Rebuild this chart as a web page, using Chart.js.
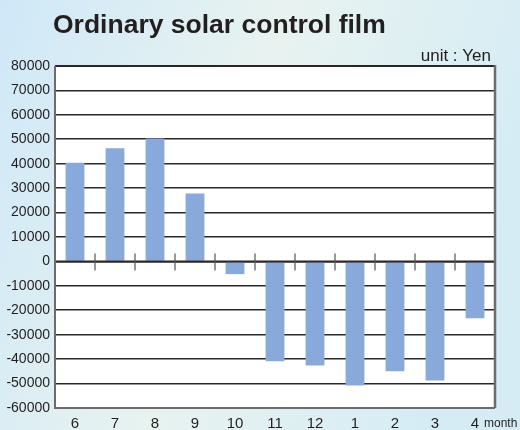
<!DOCTYPE html>
<html>
<head>
<meta charset="utf-8">
<script src="https://cdn.jsdelivr.net/npm/chart.js@4/dist/chart.umd.min.js"></script>
<style>
html,body{margin:0;padding:0;}
#wrap{width:520px;height:430px;position:relative;}
</style>
</head>
<body>
<div id="wrap"><canvas id="c" width="520" height="430"></canvas></div>
<script>
const months = ['6','7','8','9','10','11','12','1','2','3','4'];
const values = [40400, 46300, 50300, 27800, -5200, -40900, -42600, -50800, -45000, -48700, -23300];
const titleText = 'Ordinary solar control film';
const unitText = 'unit : Yen';
const axisUnit = 'month';
const yMin = -60000, yMax = 80000, yStep = 10000;

const FONT = '"Liberation Sans", Arial, Helvetica, sans-serif';

const decor = {
  id: 'decor',
  beforeDraw(chart) {
    const ctx = chart.ctx, W = chart.width, H = chart.height, a = chart.chartArea;
    ctx.save();
    const g = ctx.createLinearGradient(0, 0, W, H * 0.4);
    g.addColorStop(0, '#cfe8f8');
    g.addColorStop(0.5, '#e8f3f0');
    g.addColorStop(1, '#d5ecf5');
    ctx.fillStyle = g;
    ctx.fillRect(0, 0, W, H);
    ctx.fillStyle = '#ffffff';
    ctx.fillRect(a.left, a.top, a.right - a.left, a.bottom - a.top);
    ctx.restore();
  },
  afterDatasetsDraw(chart) {
    const ctx = chart.ctx, a = chart.chartArea;
    const x = chart.scales.x, y = chart.scales.y;
    const y0 = y.getPixelForValue(0);
    ctx.save();
    ctx.strokeStyle = '#2b2627';
    ctx.lineWidth = 2;
    ctx.beginPath();
    ctx.moveTo(a.left, y0); ctx.lineTo(a.right, y0);
    ctx.stroke();
    ctx.strokeStyle = '#555';
    ctx.lineWidth = 1.2;
    for (let i = 0; i < months.length - 1; i++) {
      const px = (x.getPixelForValue(i) + x.getPixelForValue(i + 1)) / 2;
      ctx.beginPath();
      ctx.moveTo(px, y0 - 8); ctx.lineTo(px, y0 + 9);
      ctx.stroke();
    }
    ctx.strokeStyle = '#2b2627';
    ctx.lineWidth = 2;
    ctx.beginPath(); ctx.moveTo(a.left, a.top); ctx.lineTo(a.right, a.top); ctx.stroke();
    ctx.strokeStyle = '#6d6b6b';
    ctx.lineWidth = 2;
    ctx.beginPath(); ctx.moveTo(a.left, a.top); ctx.lineTo(a.left, a.bottom); ctx.lineTo(a.right, a.bottom); ctx.stroke();
    ctx.lineWidth = 2.5;
    ctx.beginPath(); ctx.moveTo(a.right, a.top - 1); ctx.lineTo(a.right, a.bottom); ctx.stroke();
    ctx.fillStyle = '#231f20';
    ctx.font = 'bold 26.5px ' + FONT;
    ctx.textAlign = 'left';
    ctx.textBaseline = 'alphabetic';
    ctx.fillText(titleText, 53, 33);
    ctx.font = '17px ' + FONT;
    ctx.textAlign = 'right';
    ctx.fillText(unitText, 491, 61);
    ctx.font = '12px ' + FONT;
    ctx.textAlign = 'left';
    const lastX = x.getPixelForValue(months.length - 1);
    ctx.fillText(axisUnit, lastX + 9, 427);
    ctx.restore();
  }
};

new Chart(document.getElementById('c'), {
  type: 'bar',
  data: {
    labels: months,
    datasets: [{
      data: values,
      backgroundColor: '#88a9d9',
      borderWidth: 0,
      barPercentage: 0.47,
      categoryPercentage: 1.0
    }]
  },
  options: {
    responsive: false,
    animation: false,
    devicePixelRatio: 1,
    layout: { padding: { top: 66, right: 25, bottom: 0, left: 0 } },
    plugins: { legend: { display: false }, tooltip: { enabled: false }, title: { display: false } },
    scales: {
      x: {
        grid: { display: false, drawTicks: false },
        border: { display: false },
        ticks: { color: '#231f20', font: { family: FONT, size: 15 }, padding: 7, maxRotation: 0, autoSkip: false },
        afterFit(s) { s.height = 22; }
      },
      y: {
        min: yMin, max: yMax,
        grid: { color: '#2b2627', lineWidth: 1.6, drawTicks: false },
        border: { display: false },
        ticks: { stepSize: yStep, color: '#231f20', font: { family: FONT, size: 14 }, padding: 5,
                 callback: (v) => String(v) },
        afterFit(s) { s.width = 55; }
      }
    }
  },
  plugins: [decor]
});
</script>
</body>
</html>
